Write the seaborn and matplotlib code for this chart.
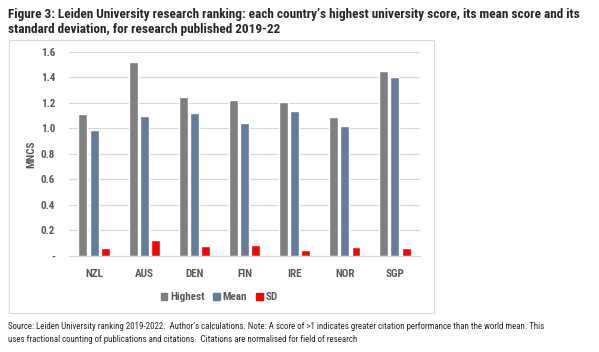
import pandas as pd
import matplotlib.pyplot as plt
import matplotlib.patches as mpatches
import seaborn as sns

countries = ["NZL", "AUS", "DEN", "FIN", "IRE", "NOR", "SGP"]
highest = [1.11, 1.52, 1.25, 1.22, 1.21, 1.09, 1.45]
mean = [0.99, 1.10, 1.12, 1.04, 1.14, 1.02, 1.40]
sd = [0.063, 0.125, 0.078, 0.086, 0.047, 0.070, 0.063]
series = ["Highest", "Mean", "SD"]
yticks = [0, 0.2, 0.4, 0.6, 0.8, 1.0, 1.2, 1.4, 1.6]
ytick_labels = ["-", "0.2", "0.4", "0.6", "0.8", "1.0", "1.2", "1.4", "1.6"]

colors = {"Highest": "#7f7f7f", "Mean": "#647b9a", "SD": "#ff0000"}

sns.set_style("white")
plt.rcParams["font.family"] = ["Roboto Condensed", "DejaVu Sans"]

df = pd.DataFrame({
    "country": countries * 3,
    "value": highest + mean + sd,
    "series": [s for s in series for _ in countries],
})

fig = plt.figure(figsize=(5.99, 3.52), dpi=100)
ax = fig.add_axes([0.1152, 0.2727, 0.586, 0.580])

sns.barplot(data=df, x="country", y="value", hue="series", order=countries,
            hue_order=series, palette=colors, width=0.67, gap=0.2,
            saturation=1, legend=False, ax=ax)

ax.set_ylim(0, 1.6)
ax.set_xlim(-0.5, len(countries) - 0.5)
ax.set_yticks(yticks)
ax.set_yticklabels(ytick_labels)
ax.grid(axis="y", color="#d9d9d9", linewidth=0.8)
ax.set_axisbelow(True)
for s in ["top", "right", "left"]:
    ax.spines[s].set_visible(False)
ax.spines["bottom"].set_color("#d9d9d9")
ax.spines["bottom"].set_linewidth(0.8)
ax.tick_params(length=0, labelcolor="#595959", labelsize=8)
ax.tick_params(axis="x", pad=9)
ax.tick_params(axis="y", pad=10)
for lab in ax.get_xticklabels() + ax.get_yticklabels():
    lab.set_fontweight("bold")
ax.set_xlabel("")
ax.set_ylabel("MNCS", color="#595959", fontsize=8, fontweight="bold", labelpad=3)

# chart border
fig.patches.append(mpatches.Rectangle((0.015, 0.111), 0.7095, 0.775, transform=fig.transFigure,
                                      fill=False, edgecolor="#d9d9d9", linewidth=0.8))

handles = [mpatches.Patch(color=colors[s], label=s) for s in series]
leg = fig.legend(handles=handles, loc="center", bbox_to_anchor=(0.366, 0.156), ncol=3,
                 frameon=False, handlelength=0.6, handleheight=0.6, handletextpad=0.25,
                 columnspacing=0.8, prop={"size": 8, "weight": "bold"})
for t in leg.get_texts():
    t.set_color("#595959")

fig.text(0.0134, 0.978, "Figure 3: Leiden University research ranking: each country\u2019s highest university score, its mean score and its\nstandard deviation, for research published 2019-22",
         ha="left", va="top", fontsize=9.5, fontweight="bold", linespacing=1.2)

fig.text(0.0134, 0.085, "Source: Leiden University ranking 2019-2022.  Author\u2019s calculations. Note: A score of >1 indicates greater citation performance than the world mean. This\nuses fractional counting of publications and citations.  Citations are normalised for field of research",
         ha="left", va="top", fontsize=6.4, linespacing=1.6)

fig.savefig("out.png", dpi=100)
